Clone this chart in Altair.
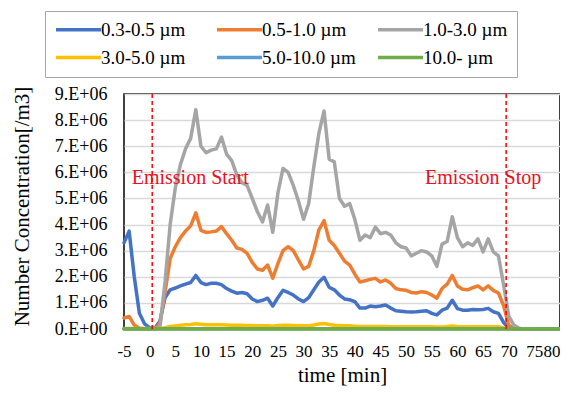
import altair as alt
import pandas as pd

time_min = list(range(-5, 81))

s_03_05 = [3.3, 3.75, 2.0, 0.6, 0.2, 0.05, 0.03, 0.3, 1.2, 1.5, 1.57, 1.65, 1.72, 1.78, 2.05, 1.78,
           1.7, 1.75, 1.75, 1.7, 1.55, 1.45, 1.37, 1.4, 1.35, 1.15, 1.05, 1.1, 1.18, 0.88, 1.2, 1.48,
           1.4, 1.3, 1.15, 1.05, 1.2, 1.5, 1.8, 1.98, 1.6, 1.5, 1.3, 1.15, 1.12, 1.05, 0.8, 0.8,
           0.88, 0.85, 0.88, 0.92, 0.8, 0.7, 0.68, 0.66, 0.65, 0.66, 0.68, 0.7, 0.6, 0.54, 0.72, 0.8,
           1.1, 0.78, 0.72, 0.72, 0.75, 0.74, 0.75, 0.79, 0.66, 0.6, 0.25, 0.05, 0.01,
           0, 0, 0, 0, 0, 0, 0, 0, 0]
s_05_10 = [0.42, 0.48, 0.15, 0.03, 0.01, 0, 0, 0.2, 1.4, 2.7, 3.15, 3.5, 3.75, 3.95, 4.45, 3.78,
           3.7, 3.72, 3.75, 3.92, 3.65, 3.4, 3.1, 3.05, 2.9, 2.55, 2.3, 2.25, 2.45, 1.95, 2.5, 3.0,
           3.15, 3.0, 2.65, 2.3, 2.4, 3.0, 3.8, 4.15, 3.4, 3.2, 2.9, 2.6, 2.45, 2.1, 1.8, 1.85,
           1.9, 1.94, 1.8, 1.88, 1.75, 1.55, 1.5, 1.48, 1.4, 1.38, 1.43, 1.4, 1.3, 1.18, 1.55, 1.72,
           2.05, 1.65, 1.52, 1.5, 1.58, 1.65, 1.5, 1.65, 1.48, 1.38, 0.9, 0.15, 0.02,
           0, 0, 0, 0, 0, 0, 0, 0, 0]
s_10_30 = [0.01, 0.01, 0.01, 0.01, 0.01, 0.01, 0.01, 0.05, 1.8, 4.0, 5.4, 6.3, 6.9, 7.3, 8.4, 7.0,
           6.75, 6.85, 6.9, 7.35, 6.7, 6.45, 5.9, 5.6, 5.5, 5.0, 4.5, 4.1, 4.75, 3.7, 5.2, 6.15,
           6.0, 5.5, 4.9, 4.2, 4.8, 6.2, 7.5, 8.35, 6.5, 6.4, 5.0, 4.7, 4.8, 4.2, 3.4, 3.6,
           3.5, 3.9, 3.65, 3.7, 3.6, 3.3, 3.15, 3.1, 2.8, 2.9, 3.0, 2.95, 2.8, 2.4, 3.25, 3.35,
           4.3, 3.5, 3.15, 3.3, 3.2, 3.45, 2.95, 3.45, 2.95, 2.8, 1.7, 0.5, 0.15, 0.03,
           0, 0, 0, 0, 0, 0, 0, 0]
s_30_50 = [0.02, 0.02, 0.02, 0.02, 0.02, 0.02, 0.02, 0.02,
           0.05, 0.1, 0.12, 0.14, 0.16, 0.17, 0.2, 0.18, 0.16, 0.16, 0.16, 0.16, 0.15, 0.14, 0.14,
           0.14, 0.13, 0.13, 0.12, 0.12, 0.12, 0.11, 0.13, 0.14, 0.14, 0.13, 0.12, 0.12, 0.12, 0.15,
           0.19, 0.21, 0.17, 0.14, 0.13, 0.12, 0.12, 0.11,
           0.1, 0.1, 0.1, 0.1, 0.1, 0.1, 0.09, 0.09, 0.09, 0.09, 0.09, 0.09, 0.09, 0.09, 0.09,
           0.08, 0.08, 0.1, 0.12, 0.1, 0.09, 0.09, 0.09, 0.09, 0.09, 0.09, 0.09, 0.09, 0.05, 0.01,
           0, 0, 0, 0, 0, 0, 0, 0, 0, 0]
s_50_100 = [0.01] * 76 + [0] * 10
s_100_up = [0.0] * 86

series_names = ["0.3-0.5 µm", "0.5-1.0 µm", "1.0-3.0 µm", "3.0-5.0 µm", "5.0-10.0 µm", "10.0-  µm"]
series_colors = ["#4472C4", "#ED7D31", "#A5A5A5", "#FFC000", "#5B9BD5", "#70AD47"]
series_values = [s_03_05, s_05_10, s_10_30, s_30_50, s_50_100, s_100_up]

x_ticks = list(range(-5, 81, 5))
y_ticks = [i * 1e6 for i in range(0, 10)]

event_times = [0.5, 69.5]
event_labels = ["Emission Start", "Emission Stop"]
event_label_x = [-3.5, 53.7]
event_label_y = [5.55e6, 5.55e6]

rows = []
for k, (name, vals) in enumerate(zip(series_names, series_values)):
    for t, v in zip(time_min, vals):
        rows.append({"time": t, "value": v * 1e6, "series": name, "order": k})
df = pd.DataFrame(rows)

df_events = pd.DataFrame({"time": event_times})
df_labels = pd.DataFrame({"label": event_labels, "time": event_label_x, "value": event_label_y})

FONT = "Liberation Serif"

x_scale = alt.Scale(domain=[-5, 80], nice=False, zero=False)
y_scale = alt.Scale(domain=[0, 9e6], nice=False)

x_axis = alt.Axis(values=x_ticks, title="time [min]", grid=False, ticks=False, domain=False,
                  labelExpr="'' + datum.value", labelOverlap=False, labelFlush=False,
                  labelAlign=alt.ExprRef(expr="datum.value == 80 ? 'right' : 'center'"),
                  labelFont=FONT, labelFontSize=17, labelColor="black", labelPadding=14,
                  titleFont=FONT, titleFontSize=21, titleFontWeight="normal",
                  titleColor="black", titlePadding=5)
y_axis = alt.Axis(values=y_ticks, title="Number Concentration[/m3]", grid=True,
                  gridColor="#D9D9D9", gridWidth=1.5, ticks=False, domain=False,
                  labelOverlap=False, labelFlush=False,
                  labelExpr="datum.value == 0 ? '0.E+00' : format(datum.value / 1000000, 'd') + '.E+06'",
                  labelFont=FONT, labelFontSize=18, labelColor="black", labelPadding=17,
                  titleFont=FONT, titleFontSize=21, titleFontWeight="normal",
                  titleColor="black", titleX=-92, titleY=112, titleBaseline="bottom")

X = alt.X("time:Q", scale=x_scale, axis=x_axis)
Y = alt.Y("value:Q", scale=y_scale, axis=y_axis)

lines = alt.Chart(df).mark_line(strokeWidth=3.5, strokeJoin="round", strokeCap="round").encode(
    x=X,
    y=Y,
    color=alt.Color("series:N", sort=series_names,
                    scale=alt.Scale(domain=series_names, range=series_colors),
                    legend=alt.Legend(title=None, orient="none", legendX=-79, legendY=-83,
                                      columns=3, direction="horizontal",
                                      symbolType="M-1,0H5", symbolSize=225, symbolStrokeWidth=3.5,
                                      labelFont=FONT, labelFontSize=19, labelColor="black",
                                      labelOffset=28, columnPadding=15, rowPadding=8,
                                      padding=9, strokeColor="#A6A6A6", fillColor="white",
                                      gridAlign="all", labelLimit=200)),
    order=alt.Order("order:Q"),
    detail="series:N",
)

rules = alt.Chart(df_events).mark_rule(color="#FF0000", strokeDash=[4, 3], strokeWidth=1.5).encode(
    x=X,
)

labels = alt.Chart(df_labels).mark_text(font=FONT, fontSize=20, color="#E8101E", align="left",
                                        baseline="alphabetic").encode(
    x=X,
    y=Y,
    text="label:N",
)

chart = alt.layer(lines, rules, labels).properties(
    width=436, height=235,
    background="white",
    autosize=alt.AutoSizeParams(type="none"),
    padding={"left": 116, "top": 86, "right": 0, "bottom": 60},
).configure_view(stroke="black", strokeWidth=1.5).configure_axis(labelOverlap=False)

chart.save("out.html", embed_options={"renderer": "svg", "actions": False})
